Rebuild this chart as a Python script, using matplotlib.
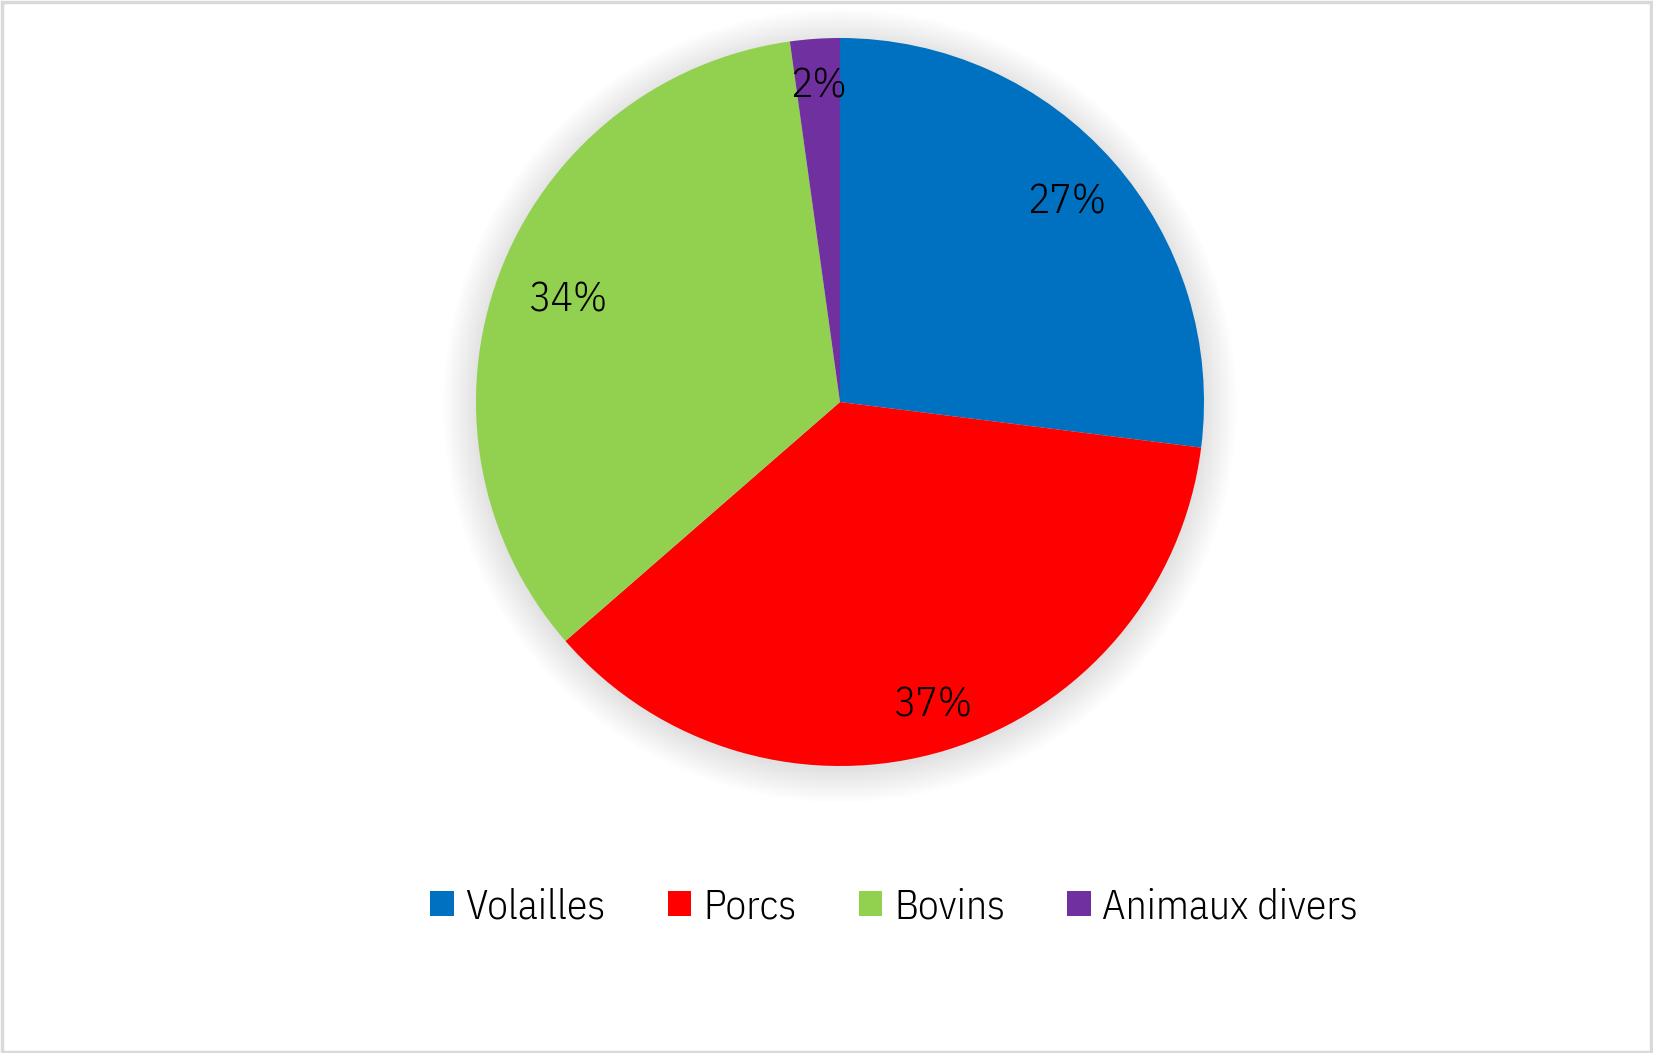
import matplotlib
matplotlib.use("Agg")
import matplotlib.pyplot as plt
from matplotlib.patches import Patch, Circle, Rectangle
from matplotlib import font_manager
from matplotlib.font_manager import FontProperties
import numpy as np

categories = ["Volailles", "Porcs", "Bovins", "Animaux divers"]
values = [27.0, 36.6, 34.2, 2.2]
labels_pct = ["27%", "37%", "34%", "2%"]
colors = ["#0070C0", "#FF0000", "#92D050", "#7030A0"]

def find_font(name, weight, stretch=None):
    for f in font_manager.fontManager.ttflist:
        if f.name == name and f.style == "normal" and f.weight == weight \
                and (stretch is None or f.stretch == stretch):
            return f.fname
    return None

fpath = (find_font("IBM Plex Sans Condensed", 300)
         or find_font("Open Sans", 300, "condensed"))

def fp(size):
    if fpath:
        return FontProperties(fname=fpath, size=size)
    return FontProperties(family="DejaVu Sans", size=size)

W, H = 1653, 1053
fig = plt.figure(figsize=(W / 100, H / 100), dpi=100)
fig.patch.set_facecolor("white")

# border
fig.add_artist(Rectangle((0.001, 0.001), 0.998, 0.997, transform=fig.transFigure,
                         fill=False, edgecolor="#D9D9D9", linewidth=2.5))

cx, cy, R = 840 / W, 1 - 402 / H, 364
lim = 1.1
half = R * lim
ax = fig.add_axes([cx - half / W, cy - half / H, 2 * half / W, 2 * half / H])

# soft shadow
for r in np.linspace(1.09, 1.0, 15):
    ax.add_patch(Circle((0, -0.01), r, color="#000000", alpha=0.008, lw=0, zorder=0))

wedges, _ = ax.pie(values, colors=colors, startangle=90, counterclock=False,
                   radius=1.0, wedgeprops=dict(linewidth=0, zorder=2))
ax.set_xlim(-lim, lim)
ax.set_ylim(-lim, lim)
ax.set_aspect("equal")
ax.axis("off")

dists = [0.83, 0.87, 0.80, 0.87]
for w, lab, d in zip(wedges, labels_pct, dists):
    ang = np.deg2rad((w.theta1 + w.theta2) / 2)
    ax.text(d * np.cos(ang), d * np.sin(ang), lab, ha="center", va="center",
            fontproperties=fp(30), color="black", zorder=5)

handles = [Patch(facecolor=c, edgecolor="none") for c in colors]
fig.legend(handles, categories, loc="center", bbox_to_anchor=(0.541, 1 - 907 / H),
           ncol=4, frameon=False, prop=fp(30), handlelength=0.56, handleheight=0.56,
           handletextpad=0.28, columnspacing=1.5)

fig.savefig("out.png", dpi=100, facecolor="white")
